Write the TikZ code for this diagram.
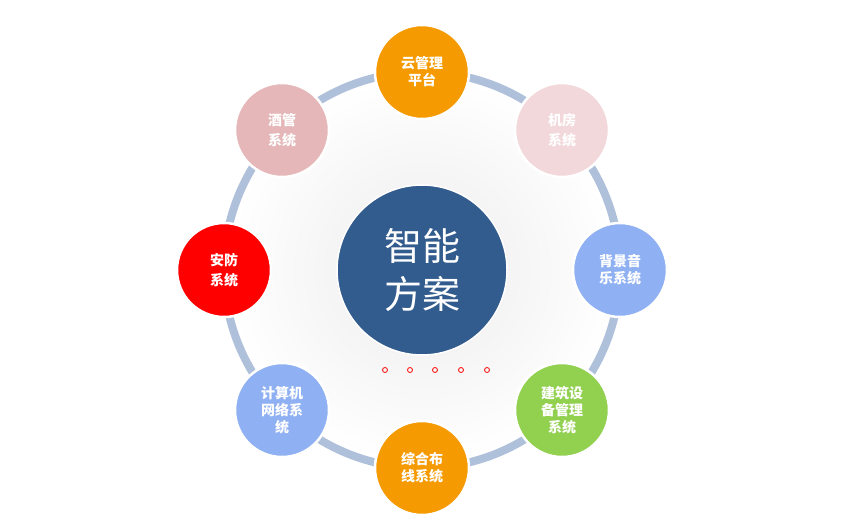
\documentclass[tikz,border=0pt]{standalone}
\usepackage{fontspec}
\setmainfont{Noto Sans CJK SC}
\usetikzlibrary{shadings}
\definecolor{ringc}{HTML}{AFC0DA}
\definecolor{orangec}{HTML}{F59A00}
\definecolor{pinkc}{HTML}{F2D8DA}
\definecolor{bluec}{HTML}{8FB0F2}
\definecolor{greenc}{HTML}{92D050}
\definecolor{rosec}{HTML}{E5B7B8}
\definecolor{centerc}{HTML}{335C8E}
\tikzset{
  sat/.style={circle,minimum size=94pt,inner sep=0pt,draw=white,line width=2.5pt,
    text=white,font=\fontsize{14}{17}\selectfont\bfseries,align=center},
  dotc/.style={circle,draw=red,line width=0.8pt,minimum size=5pt,inner sep=0pt}
}
\begin{document}
\begin{tikzpicture}[x=1pt,y=-1pt]
\useasboundingbox (0,0) rectangle (856,532);
\fill[white] (0,0) rectangle (856,532);
\shade[inner color=gray!15,outer color=white] (422,270) circle (195);
\node[circle,minimum size=396pt,draw=ringc,line width=8pt,inner sep=0pt] (ring) at (422,270) {};
\node[circle,minimum size=170pt,fill=centerc,draw=white,line width=1.5pt,text=white,
  font=\fontsize{38}{48}\selectfont,align=center] (c) at (422,270) {智能\\方案};
\node[sat,fill=orangec] (n1) at (422,72) {云管理\\平台};
\node[sat,fill=pinkc] (n2) at (562,130) {机房\\[3pt]系统};
\node[sat,fill=bluec] (n3) at (620,270) {背景音\\乐系统};
\node[sat,fill=greenc] (n4) at (562,410) {建筑设\\备管理\\系统};
\node[sat,fill=orangec] (n5) at (422,468) {综合布\\线系统};
\node[sat,fill=bluec] (n6) at (282,410) {计算机\\网络系\\统};
\node[sat,fill=red] (n7) at (224,270) {安防\\[3pt]系统};
\node[sat,fill=rosec] (n8) at (282,130) {酒管\\[3pt]系统};
\foreach \x/\n in {385/a,410/b,435/c,461/d,487/e}
  \node[dotc] (d\n) at (\x,370) {};
\end{tikzpicture}
\end{document}
